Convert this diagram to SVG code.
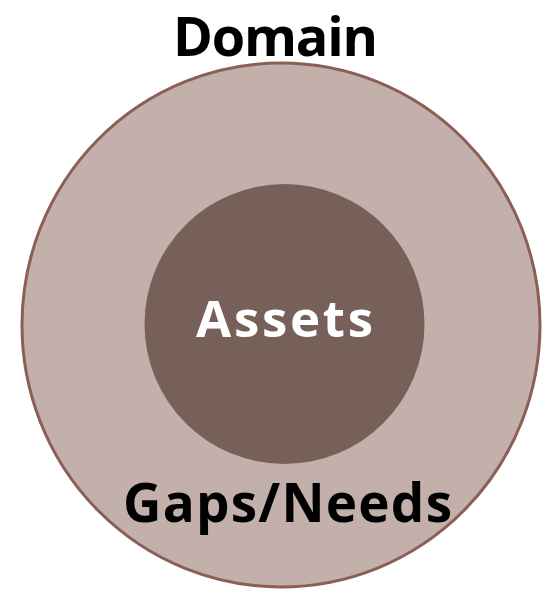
<svg xmlns="http://www.w3.org/2000/svg" width="544" height="594" viewBox="0 0 544 594">
<style>
.lbl{font-family:"Open Sans","Noto Sans","DejaVu Sans",sans-serif;font-weight:bold;text-anchor:middle}
</style>
<rect width="544" height="594" fill="#ffffff"/>
<g id="domain">
<ellipse cx="281" cy="325" rx="259" ry="262" fill="#C4B0AA" stroke="#8B5E56" stroke-width="3"/>
<text class="lbl" x="275.5" y="56" font-size="54" fill="#000000" textLength="205" lengthAdjust="spacing">Domain</text>
<text class="lbl" x="287.5" y="522" font-size="53" fill="#000000" textLength="329" lengthAdjust="spacing">Gaps/Needs</text>
</g>
<g id="assets">
<circle cx="284.5" cy="324" r="140" fill="#78605A"/>
<text class="lbl" x="284.5" y="337" font-size="51" fill="#ffffff" textLength="177" lengthAdjust="spacing">Assets</text>
</g>
<g id="connectors"/>
</svg>
